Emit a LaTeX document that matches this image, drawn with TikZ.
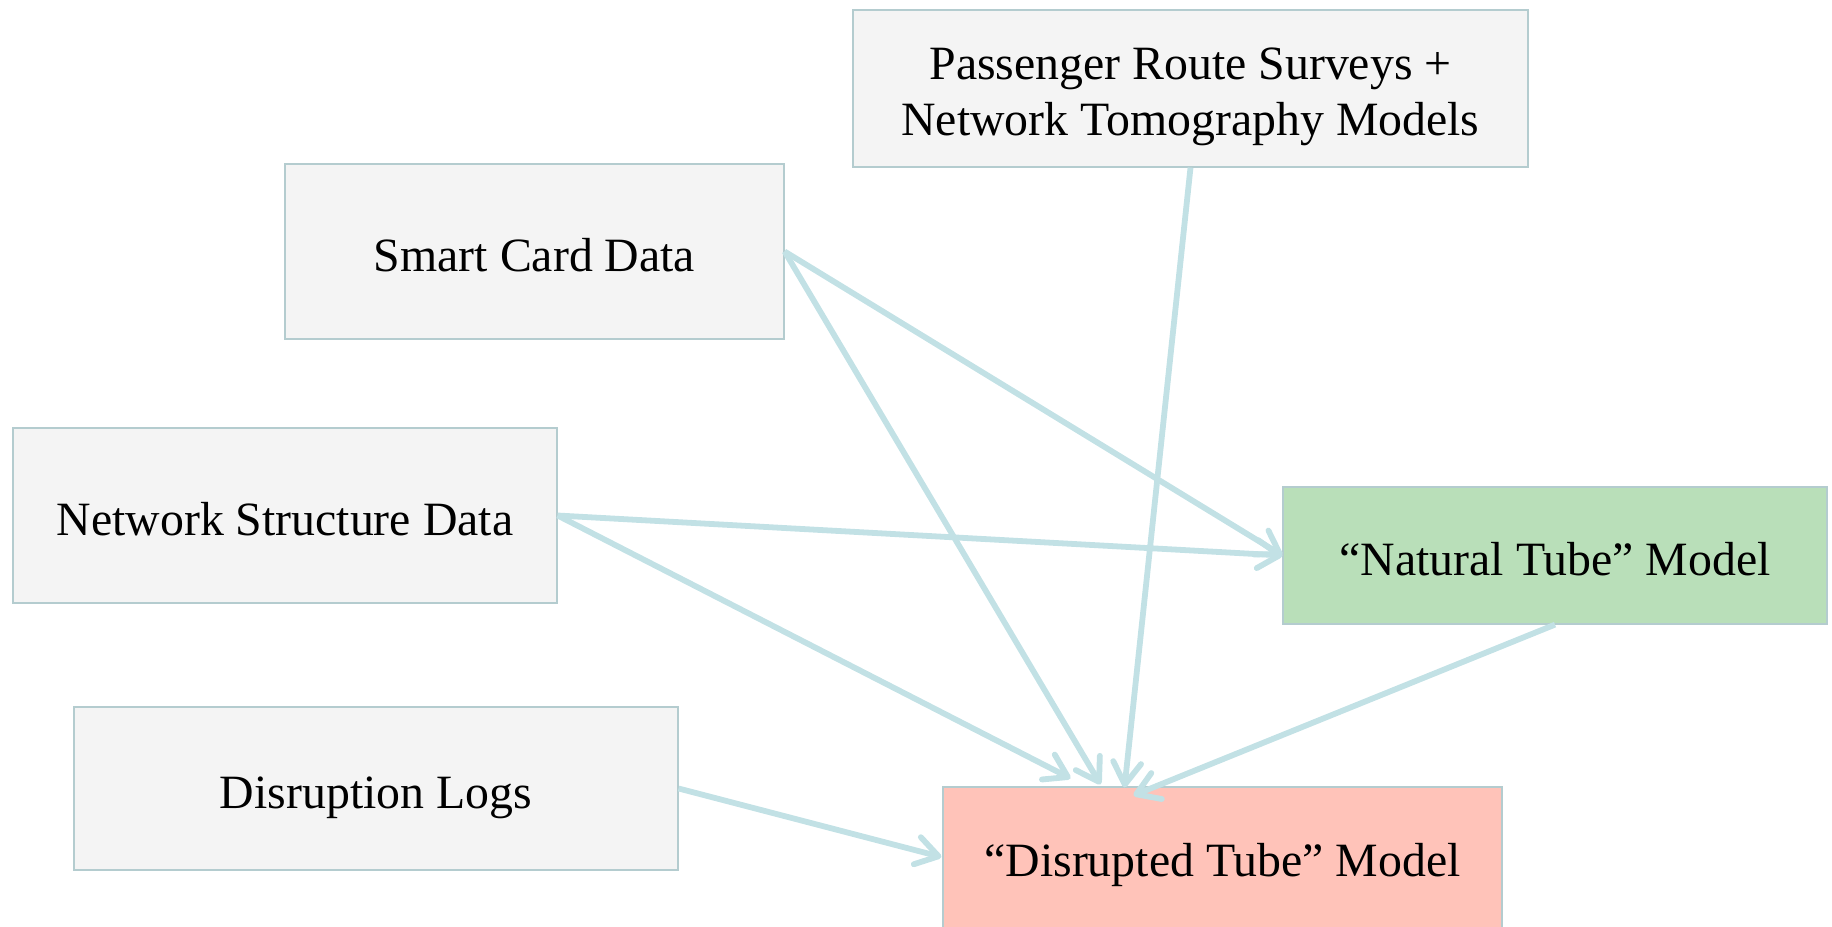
\documentclass[tikz,border=0pt]{standalone}
\usepackage{fontspec}
\setmainfont{Liberation Serif}
\usepackage{tikz}
\usetikzlibrary{arrows.meta, positioning, calc}
\definecolor{tbgray}{RGB}{244,244,244}
\definecolor{tbedge}{RGB}{180,204,207}
\definecolor{tbarrow}{RGB}{194,225,229}
\definecolor{tbgreen}{RGB}{185,223,185}
\definecolor{tbred}{RGB}{255,195,185}

\begin{document}
\begin{tikzpicture}[x=0.2mm, y=-0.2mm,
  src/.style={rectangle, draw=tbedge, line width=0.7pt, fill=tbgray, inner sep=0pt, align=center, font=\fontsize{27.2}{31.5}\selectfont, text height=29pt, text depth=5.7pt},
  natbox/.style={src, fill=tbgreen},
  disbox/.style={src, fill=tbred, text height=22.2pt},
  arr/.style={draw=tbarrow, line width=3.3pt, -{Straight Barb[length=4.4mm, width=5.6mm, round]}}
]
\useasboundingbox (0,0) rectangle (1832,927);
% data sources
\node[src, text height=58.9pt, text depth=5.9pt, minimum width=13.5cm, minimum height=3.14cm] (pass) at (1190.5,88.5) {Passenger Route Surveys +\\Network Tomography Models};
\node[src, minimum width=9.98cm, minimum height=3.5cm] (smart) at (534.5,251.5) {Smart Card Data};
\node[src, minimum width=10.88cm, minimum height=3.5cm] (net) at (285,515.5) {Network Structure Data};
\node[src, minimum width=12.08cm, minimum height=3.26cm] (logs) at (376,788.5) {Disruption Logs};
% models
\node[natbox, minimum width=10.88cm, minimum height=2.74cm] (natural) at (1555,555.5) {“Natural Tube” Model};
\node[disbox, minimum width=11.18cm, minimum height=3cm] (disr) at (1222.5,862) {“Disrupted Tube” Model};
% links
\draw[arr] (smart.east) -- (natural.west);
\draw[arr] (net.east) -- (natural.west);
\draw[arr] (smart.east) -- ($(disr.north)+(-122,-2)$);
\draw[arr] (net.east) -- ($(disr.north)+(-152,-8)$);
\draw[arr] (pass.south) -- ($(disr.north)+(-98,1)$);
\draw[arr] (natural.south) -- ($(disr.north)+(-89,9)$);
\draw[arr] (logs.east) -- ($(disr.west)+(-1,-5)$);
\end{tikzpicture}
\end{document}
